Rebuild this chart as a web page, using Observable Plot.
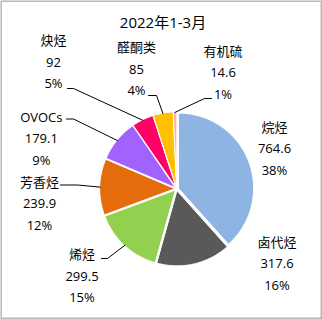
<!DOCTYPE html>
<html>
<head>
<meta charset="utf-8">
<script src="https://cdn.jsdelivr.net/npm/d3@7"></script>
<script src="https://cdn.jsdelivr.net/npm/@observablehq/plot@0.6"></script>
<style>
html,body{margin:0;padding:0;background:#fff;}
#chart svg{display:block;}
</style>
</head>
<body>
<div id="chart"></div>
<script>
// ---- data ----
const title = "2022年1-3月";
const categories = ["烷烃","卤代烃","烯烃","芳香烃","OVOCs","炔烃","醛酮类","有机硫"];
const values = [764.6,317.6,299.5,239.9,179.1,92,85,14.6];
const valueLabels = ["764.6","317.6","299.5","239.9","179.1","92","85","14.6"];
const percentLabels = ["38%","16%","15%","12%","9%","5%","4%","1%"];
const colors = ["#8EB4E3","#595959","#92D050","#E46C0A","#A162FF","#FF0066","#FFC000","#F2B4B0"];

// ---- layout (pixels) ----
const W = 322, H = 319;
const cx = 176.2, cy = 188.4, R = 75, explode = 2;
const labelPos = { // centre of the middle (value) row
  "烷烃":[274,146], "卤代烃":[276.5,261], "烯烃":[81.5,273.5], "芳香烃":[39,201],
  "OVOCs":[40.8,136], "炔烃":[53,59.5], "醛酮类":[136,66.5], "有机硫":[222.5,70]
};
const elbows = { // leader line start + elbow
  "炔烃":[[67,88],[73,88]],
  "醛酮类":[[148,95],[156,95]],
  "有机硫":[[211,98],[204,98]],
  "OVOCs":[[66,118.5],[73,118.5]],
  "芳香烃":[[60,184.5],[77,184.5]],
  "烯烃":[[101,258],[107,258]]
};

const arcs = d3.pie().sort(null).startAngle(0).endAngle(2*Math.PI)(values);

// slice polygons
const slicePts = [];
arcs.forEach((a, i) => {
  const mid = (a.startAngle + a.endAngle) / 2;
  const ox = cx + explode*Math.sin(mid), oy = cy - explode*Math.cos(mid);
  slicePts.push({cat: categories[i], x: ox, y: oy});
  const n = Math.max(2, Math.ceil((a.endAngle - a.startAngle) / (Math.PI/180)));
  for (let k = 0; k <= n; k++) {
    const t = a.startAngle + (a.endAngle - a.startAngle) * k / n;
    slicePts.push({cat: categories[i], x: ox + R*Math.sin(t), y: oy - R*Math.cos(t)});
  }
});

// leader lines
const leaderPts = [];
arcs.forEach((a, i) => {
  const c = categories[i];
  if (!elbows[c]) return;
  const mid = (a.startAngle + a.endAngle) / 2;
  elbows[c].forEach(p => leaderPts.push({cat: c, x: p[0], y: p[1]}));
  leaderPts.push({cat: c, x: cx + (R + explode - 0.5)*Math.sin(mid), y: cy - (R + explode - 0.5)*Math.cos(mid)});
});

const labels = categories.map((c, i) => ({
  cat: c, x: labelPos[c][0], y: labelPos[c][1],
  text: c + "\n" + valueLabels[i] + "\n" + percentLabels[i]
}));

const chart = Plot.plot({
  width: W, height: H, margin: 0,
  x: {domain: [0, W], range: [0, W], axis: null},
  y: {domain: [0, H], range: [0, H], axis: null},
  color: {domain: categories, range: colors},
  style: {fontFamily: "'Open Sans', 'Noto Sans CJK SC', sans-serif", background: "#fff", overflow: "visible"},
  marks: [
    Plot.frame({stroke: "#b8b8b8", strokeWidth: 1.5, insetLeft: 0.75, insetTop: 0.75, insetRight: 1.25, insetBottom: 1.25}),
    Plot.line(slicePts, {x: "x", y: "y", z: "cat", fill: "cat", stroke: "white", strokeWidth: 1, curve: "linear-closed"}),
    Plot.line(leaderPts, {x: "x", y: "y", z: "cat", stroke: "#000", strokeWidth: 1}),
    Plot.text(labels, {x: "x", y: "y", text: "text", fontSize: 13, lineHeight: 1.65, fill: "#000", textAnchor: "middle", lineAnchor: "middle"}),
    Plot.text([title], {x: () => 162.5, y: () => 22.5, text: d => d, fontSize: 15, fill: "#000", textAnchor: "middle"})
  ]
});
document.getElementById("chart").appendChild(chart);
</script>
</body>
</html>
